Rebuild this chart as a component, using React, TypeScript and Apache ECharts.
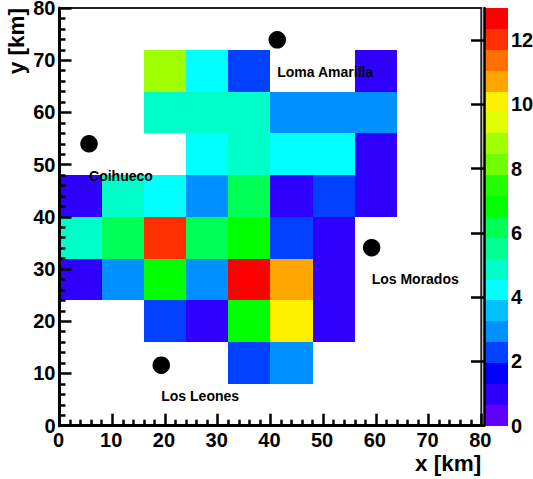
import React, { useEffect, useRef } from "react";
import * as echarts from "echarts";

const palette = ["#6000ff","#3000ff","#0000ff","#0040ff","#0090ff","#00c0ff","#00ffff","#00ffc8","#00ff90","#00ff55","#00ff00","#20ff00","#70ff00","#a0ff00","#e0ff00","#fff000","#ffa500","#ff7000","#ff3000","#ff0000"];
const zMax = 13;
const zTicks = [0, 2, 4, 6, 8, 10, 12];
const binSize = 8;
const heatCells: number[][] = [
  [16,64,9],[24,64,4],[32,64,2],[56,64,1],
  [16,56,5],[24,56,5],[32,56,5],[40,56,3],[48,56,3],[56,56,3],
  [24,48,4],[32,48,5],[40,48,4],[48,48,4],[56,48,1],
  [0,40,1],[8,40,5],[16,40,4],[24,40,3],[32,40,6],[40,40,1],[48,40,2],[56,40,1],
  [0,32,5],[8,32,6],[16,32,12],[24,32,6],[32,32,7],[40,32,2],[48,32,1],
  [0,24,1],[8,24,3],[16,24,7],[24,24,3],[32,24,13],[40,24,11],[48,24,1],
  [16,16,2],[24,16,1],[32,16,7],[40,16,10],[48,16,1],
  [32,8,2],[40,8,3],
];
const stations: number[][] = [[41.3,73.9],[5.6,54],[19.3,11.6],[59.2,34.1]];
const stationLabels: [number, number, string][] = [
  [41.3,67.7,"Loma Amarilla"],
  [5.6,47.9,"Coihueco"],
  [19.3,5.7,"Los Leones"],
  [59.2,28.1,"Los Morados"],
];
const colorLevels = palette.map((_, i) => i);

const FONT = "'Liberation Sans', Arial, sans-serif";
const INK = "#000000";

function colorFor(v: number) {
  const i = Math.min(palette.length - 1, Math.floor((v / zMax) * palette.length));
  return palette[i];
}

export default function App() {
  const ref = useRef<HTMLDivElement>(null);
  useEffect(() => {
    const chart = echarts.init(ref.current!, undefined, { renderer: "svg" });
    const axisCommon = {
      type: "value" as const,
      min: 0,
      max: 80,
      interval: 10,
      z: 10,
      splitLine: { show: false },
      axisLine: { show: true, onZero: false, lineStyle: { color: "#000", width: 3 } },
      axisTick: { show: true, inside: true, length: 12, lineStyle: { color: "#000", width: 2.5 } },
      minorTick: { show: true, splitNumber: 5, length: 6, lineStyle: { color: "#000", width: 2.5 } },
      axisLabel: { fontFamily: FONT, fontWeight: "bold" as const, fontSize: 20, color: INK },
      nameTextStyle: { fontFamily: FONT, fontWeight: "bold" as const, fontSize: 22.5, color: INK },
    };
    chart.setOption({
      animation: false,
      backgroundColor: "#fff",
      grid: [
        { left: 59.5, top: 8, width: 421.8, height: 417.7, show: true, borderColor: "#222", borderWidth: 2, backgroundColor: "transparent", outerBoundsMode: "none", containLabel: false },
        { left: 484, top: 8, width: 24, height: 417.7, show: false, outerBoundsMode: "none", containLabel: false },
      ],
      xAxis: [
        {
          ...axisCommon, gridIndex: 0,
          name: "x [km]", nameLocation: "end", nameGap: 0,
          axisLabel: { ...axisCommon.axisLabel, margin: 4, padding: [0, 2, 0, 0] },
          nameTextStyle: { ...axisCommon.nameTextStyle, align: "right", verticalAlign: "top", padding: [26, 0, 0, 0] },
        },
        { gridIndex: 1, type: "value", min: 0, max: 1, show: false },
      ],
      yAxis: [
        {
          ...axisCommon, gridIndex: 0,
          name: "y [km]", nameLocation: "end", nameRotate: 90, nameGap: 0,
          axisLabel: { ...axisCommon.axisLabel, margin: 4, lineHeight: 16, padding: [4, 0, 0, 0] },
          nameTextStyle: { ...axisCommon.nameTextStyle, align: "right", verticalAlign: "bottom", padding: [0, 0, 32, 0] },
        },
        {
          gridIndex: 1, type: "value", min: 0, max: zMax, position: "right", z: 10,
          splitLine: { show: false },
          axisLine: { show: true, lineStyle: { color: "#000", width: 2.5 } },
          axisTick: { show: true, inside: true, length: 13, customValues: zTicks, lineStyle: { color: "#000", width: 2.5 } },
          axisLabel: { fontFamily: FONT, fontWeight: "bold", fontSize: 20, color: INK, margin: 3, customValues: zTicks, lineHeight: 16, padding: [4, 0, 0, 0] },
        },
      ],
      series: [
        {
          type: "custom", xAxisIndex: 0, yAxisIndex: 0, z: 1, silent: true,
          itemStyle: { opacity: 1 },
          data: heatCells,
          encode: { x: 0, y: 1 },
          renderItem: (_: any, api: any) => {
            const x = api.value(0), y = api.value(1);
            const a = api.coord([x, y + binSize]).map(Math.round);
            const b = api.coord([x + binSize, y]).map(Math.round);
            return {
              type: "rect",
              shape: { x: a[0], y: a[1], width: b[0] - a[0], height: b[1] - a[1] },
              style: { fill: colorFor(api.value(2)), opacity: 1 },
            };
          },
        },
        {
          type: "custom", xAxisIndex: 1, yAxisIndex: 1, z: 1, silent: true,
          itemStyle: { opacity: 1 },
          data: colorLevels.map((i) => [i]),
          encode: { y: 0 },
          renderItem: (_: any, api: any) => {
            const i = api.value(0);
            const step = zMax / palette.length;
            const a = api.coord([0, (i + 1) * step]).map(Math.round);
            const b = api.coord([1, i * step]).map(Math.round);
            return {
              type: "rect",
              shape: { x: a[0], y: a[1], width: b[0] - a[0], height: b[1] - a[1] },
              style: { fill: palette[i], opacity: 1 },
            };
          },
        },
        {
          type: "scatter", xAxisIndex: 0, yAxisIndex: 0, z: 5, silent: true,
          symbol: "circle", symbolSize: 17.5,
          itemStyle: { color: "#000", opacity: 1 },
          data: stations,
        },
        {
          type: "scatter", xAxisIndex: 0, yAxisIndex: 0, z: 6, silent: true,
          symbolSize: 0,
          itemStyle: { opacity: 1 },
          data: stationLabels.map((d) => ({ value: [d[0], d[1]], name: d[2] })),
          label: {
            show: true, position: "right", distance: 0, formatter: "{b}", opacity: 1,
            fontFamily: FONT, fontWeight: "bold", fontSize: 14, color: INK,
          },
        },
      ],
    });
    return () => chart.dispose();
  }, []);
  return <div ref={ref} style={{ width: 533, height: 479, position: "fixed", left: 0, top: 0 }} />;
}
